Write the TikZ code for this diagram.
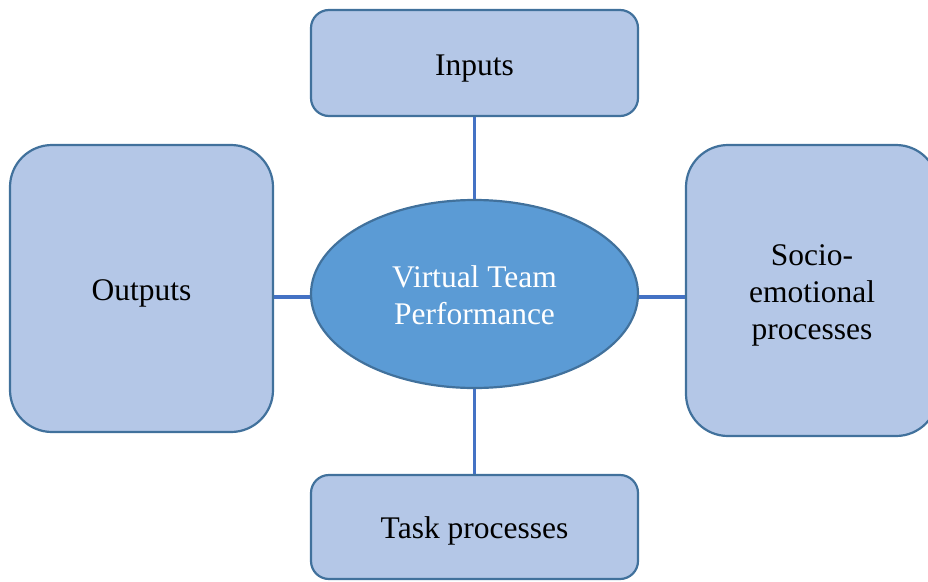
\documentclass[tikz,border=0pt]{standalone}
\usepackage{fontspec}
\setmainfont{Liberation Serif}
\usetikzlibrary{shapes.geometric}
\definecolor{boxfill}{HTML}{B4C7E7}
\definecolor{boxdraw}{HTML}{41719C}
\definecolor{ellfill}{HTML}{5B9BD5}
\definecolor{linkcol}{HTML}{4472C4}
\newcommand{\lowtext}[2]{\raisebox{-#1}[\height][\depth]{\begin{tabular}{@{}c@{}}#2\end{tabular}}}
\tikzset{
  box/.style={draw=boxdraw, fill=boxfill, line width=2.2pt, align=center,
    font=\fontsize{31.5}{37}\selectfont, inner sep=0pt},
  link/.style={draw=linkcol, line width=3.5pt},
}
\begin{document}
\begin{tikzpicture}[x=1pt,y=-1pt]
\useasboundingbox (0,0) rectangle (928,581);
\begin{scope}
\clip (0,0) rectangle (928,581);
\node[box, rounded corners=18pt, minimum width=327pt, minimum height=106pt] (in) at (474.5,63) {\lowtext{5pt}{Inputs}};
\node[box, rounded corners=18pt, minimum width=327pt, minimum height=104pt] (task) at (474.5,527) {\lowtext{4pt}{Task processes}};
\node[box, rounded corners=42pt, minimum width=263pt, minimum height=287pt] (out) at (141.5,288.5) {\lowtext{5pt}{Outputs}};
\node[box, rounded corners=42pt, minimum width=252pt, minimum height=291pt] (soc) at (812,290.5) {\lowtext{5pt}{Socio-\\emotional\\processes}};
\node[ellipse, draw=boxdraw, fill=ellfill, line width=2.2pt, minimum width=327pt, minimum height=188pt,
  inner sep=0pt, align=center, text=white, font=\fontsize{31.5}{37}\selectfont] (vt) at (474.5,294) {\lowtext{4.5pt}{Virtual Team\\Performance}};
\draw[link] (in.south) -- (vt.north);
\draw[link] (vt.south) -- (task.north);
\draw[link] (out.east |- 0,297) -- (vt.west |- 0,297);
\draw[link] (vt.east |- 0,297) -- (soc.west |- 0,297);
\end{scope}
\end{tikzpicture}
\end{document}
